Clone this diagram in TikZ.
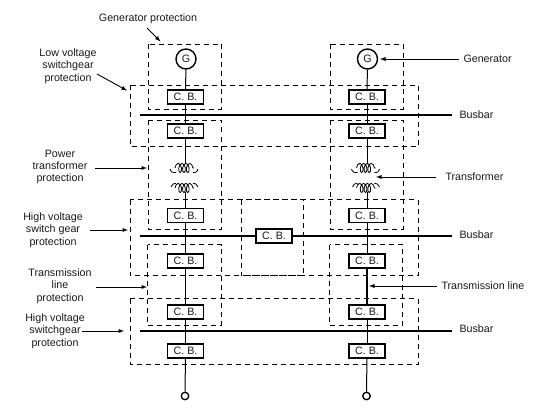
\documentclass[tikz,border=0pt]{standalone}
\usepackage{fontspec}
\setmainfont{Liberation Sans}
\usetikzlibrary{decorations.pathmorphing}
\begin{document}
\begin{tikzpicture}[x=1pt, y=-1pt,
	every path/.style={line width=1pt},
	every node/.style={font=\fontsize{10.7}{12.3}\selectfont, text=black!90},
	cb/.style={rectangle, draw=black, line width=1.5pt, fill=white, inner sep=0,
				minimum width=36pt, minimum height=14pt},
	gen/.style={circle, draw=black, line width=1.4pt, fill=white, inner sep=0,
				minimum size=20pt},
	term/.style={circle, draw=black, line width=1.3pt, fill=white, inner sep=0,
				minimum size=7.5pt},
	prot/.style={dashed, dash pattern=on 5pt off 4pt, line width=0.95pt},
	bus/.style={line width=1.7pt},
	lab/.style={align=center, inner sep=0},
	tag/.style={-latex, line width=0.9pt},
	winding/.style={decorate, line width=0.8pt,
				decoration={coil, aspect=0.5, segment length=3.8pt, amplitude=4.6pt}},
	tail/.style={line width=0.8pt}]
	\useasboundingbox (0,0) rectangle (537,414);

	% protection zones
	\draw[prot] (148,44) rectangle (221.5,109);
	\draw[prot] (330,44) rectangle (403,109);
	\draw[prot] (130,85) rectangle (418,146.5);
	\draw[prot] (148,120) rectangle (221.5,229);
	\draw[prot] (330,120) rectangle (403,229);
	\draw[prot] (130,199.5) rectangle (303.5,275.5);
	\draw[prot] (241,199.5) rectangle (418,275.5);
	\draw[prot] (147.5,244.5) rectangle (221,325);
	\draw[prot] (329.5,244.5) rectangle (402.5,325);
	\draw[prot] (130,298.5) rectangle (418,364);

	% busbars
	\coordinate (busAl) at (140,115);
	\coordinate (busAr) at (452,115);
	\coordinate (busBl) at (140,236);
	\coordinate (busBr) at (452,236);
	\coordinate (busCl) at (140,331);
	\coordinate (busCr) at (452,331);
	\node[cb] (cbM) at (274,236) {C. B.};
	\draw[bus] (busAl) -- (busAr);
	\draw[bus] (busBl) -- (cbM);
	\draw[bus] (cbM) -- (busBr);
	\draw[bus] (busCl) -- (busCr);

	% left column
	\node[gen] (genL) at (186,59) {G};
	\node[cb] (cbLa) at (185.5,97) {C. B.};
	\node[cb] (cbLb) at (185.5,131) {C. B.};
	\node[cb] (cbLc) at (185.5,215.5) {C. B.};
	\node[cb] (cbLd) at (185.5,261) {C. B.};
	\node[cb] (cbLe) at (185.5,312) {C. B.};
	\node[cb] (cbLf) at (185.5,351) {C. B.};
	\node[term] (endL) at (185,396) {};
	\coordinate (trLa) at (185.5,164);
	\coordinate (trLb) at (185.5,192);
	\draw (genL) -- (cbLa);
	\draw (cbLa) -- (cbLb);
	\draw (cbLb) -- (trLa);
	\draw (trLb) -- (cbLc);
	\draw (cbLc) -- (cbLd);
	\draw[line width=1.3pt] (cbLd) -- (cbLe);
	\draw (cbLe) -- (cbLf);
	\draw (cbLf) -- (endL);
	\draw[winding] (175,168) -- (194,168);
	\draw[winding] (175,188) -- (194,188);
	\draw[tail] (170,169) .. controls (171,172.5) and (173,173) .. (176,172.6);
	\draw[tail] (198,169) .. controls (197,172.5) and (195,173) .. (193,172.6);
	\draw[tail] (171,187) .. controls (172,184) and (174,183) .. (176,183.4);
	\draw[tail] (198,187) .. controls (197,184) and (195,183) .. (193,183.4);

	% right column
	\node[gen] (genR) at (367.5,59) {G};
	\node[cb] (cbRa) at (367,97) {C. B.};
	\node[cb] (cbRb) at (367,131) {C. B.};
	\node[cb] (cbRc) at (367,215.5) {C. B.};
	\node[cb] (cbRd) at (367,261) {C. B.};
	\node[cb] (cbRe) at (367,312) {C. B.};
	\node[cb] (cbRf) at (367,351) {C. B.};
	\node[term] (endR) at (366.5,396) {};
	\coordinate (trRa) at (367,164);
	\coordinate (trRb) at (367,192);
	\draw (genR) -- (cbRa);
	\draw (cbRa) -- (cbRb);
	\draw (cbRb) -- (trRa);
	\draw (trRb) -- (cbRc);
	\draw (cbRc) -- (cbRd);
	\draw[line width=1.3pt] (cbRd) -- (cbRe);
	\draw (cbRe) -- (cbRf);
	\draw (cbRf) -- (endR);
	\draw[winding] (356.5,168) -- (375.5,168);
	\draw[winding] (356.5,188) -- (375.5,188);
	\draw[tail] (351.5,169) .. controls (352.5,172.5) and (354.5,173) .. (357.5,172.6);
	\draw[tail] (379.5,169) .. controls (378.5,172.5) and (376.5,173) .. (374.5,172.6);
	\draw[tail] (352.5,187) .. controls (353.5,184) and (355.5,183) .. (357.5,183.4);
	\draw[tail] (379.5,187) .. controls (378.5,184) and (376.5,183) .. (374.5,183.4);

	% labels on the left
	\node[lab] (gpLab) at (148,19) {Generator protection};
	\node[lab] (lvLab) at (68,66) {Low voltage\\switchgear\\protection};
	\node[lab] (ptLab) at (60,167) {Power\\transformer\\protection};
	\node[lab] (hvLab) at (53,230) {High voltage\\switch gear\\protection};
	\node[lab] (tlLab) at (60,286) {Transmission\\line\\protection};
	\node[lab] (hsLab) at (55,331) {High voltage\\switchgear\\protection};
	\coordinate (gpTip) at (160.5,41.5);
	\coordinate (lvTip) at (127,90.5);
	\coordinate (ptTip) at (147,168);
	\coordinate (hvTip) at (128,230);
	\coordinate (tlTip) at (147,287);
	\coordinate (hsTip) at (124,331);
	\coordinate (gpTail) at (147,28);
	\coordinate (lvTail) at (97,74);
	\coordinate (ptTail) at (95,168);
	\coordinate (hvTail) at (90,230);
	\coordinate (tlTail) at (96,287);
	\coordinate (hsTail) at (82,331);
	\draw[tag] (gpTail) -- (gpTip);
	\draw[tag] (lvTail) -- (lvTip);
	\draw[tag] (ptTail) -- (ptTip);
	\draw[tag] (hvTail) -- (hvTip);
	\draw[tag] (tlTail) -- (tlTip);
	\draw[tag] (hsTail) -- (hsTip);

	% labels on the right
	\node[lab, anchor=west] (gnLab) at (463,59) {Generator};
	\node[lab, anchor=west] (baLab) at (459,115) {Busbar};
	\node[lab, anchor=west] (trLab) at (445,177) {Transformer};
	\node[lab, anchor=west] (bbLab) at (459,235) {Busbar};
	\node[lab, anchor=west] (lnLab) at (441,286) {Transmission line};
	\node[lab, anchor=west] (bcLab) at (459,329) {Busbar};
	\coordinate (gnTip) at (380,59);
	\coordinate (trTip) at (376,177);
	\coordinate (lnTip) at (369,286);
	\coordinate (gnTail) at (459,59);
	\coordinate (trTail) at (436,177);
	\coordinate (lnTail) at (437,286);
	\draw[tag] (gnTail) -- (gnTip);
	\draw[tag] (trTail) -- (trTip);
	\draw[tag] (lnTail) -- (lnTip);
\end{tikzpicture}
\end{document}
